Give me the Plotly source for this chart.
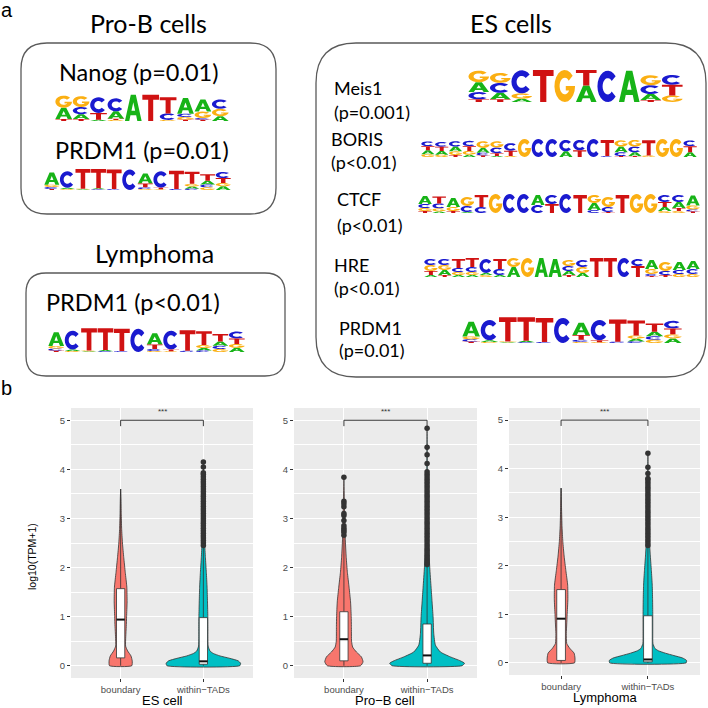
import math
import plotly.graph_objects as go

W = H = 708

# ======================= Part b data =======================
panel_names = ["ES cell", "Pro−B cell", "Lymphoma"]
group_names = ["boundary", "within−TADs"]

# violin outlines: y level and half width (category units)
es_bnd_y = [0, 0.1, 0.2, 0.3, 0.4, 0.6, 0.8, 1.0, 1.3, 1.6, 1.9, 2.2, 2.5, 2.8, 3.1, 3.4, 3.6]
es_bnd_w = [0.135, 0.14, 0.125, 0.085, 0.06, 0.062, 0.068, 0.072, 0.078, 0.075, 0.056, 0.038, 0.022, 0.012, 0.007, 0.004, 0.0]
es_win_y = [0, 0.05, 0.1, 0.15, 0.2, 0.25, 0.3, 0.4, 0.6, 0.8, 1.0, 1.3, 1.6, 1.9, 2.2, 2.5, 2.8, 3.2, 3.6, 4.15]
es_win_w = [0.44, 0.45, 0.42, 0.32, 0.2, 0.12, 0.08, 0.058, 0.055, 0.055, 0.054, 0.05, 0.045, 0.036, 0.025, 0.016, 0.01, 0.006, 0.004, 0.0]
pb_bnd_y = [0, 0.08, 0.18, 0.28, 0.38, 0.5, 0.8, 1.0, 1.3, 1.6, 1.9, 2.2, 2.6, 3.0, 3.4, 3.84]
pb_bnd_w = [0.2, 0.23, 0.21, 0.15, 0.105, 0.092, 0.09, 0.088, 0.08, 0.062, 0.042, 0.028, 0.016, 0.01, 0.005, 0.0]
pb_win_y = [0, 0.05, 0.1, 0.18, 0.28, 0.42, 0.66, 1.0, 1.3, 1.6, 2.0, 2.4, 2.8, 3.4, 4.0, 4.84]
pb_win_w = [0.42, 0.45, 0.4, 0.28, 0.16, 0.1, 0.08, 0.072, 0.06, 0.048, 0.032, 0.02, 0.013, 0.007, 0.003, 0.0]
ly_bnd_y = [0, 0.1, 0.2, 0.3, 0.4, 0.6, 0.8, 1.0, 1.3, 1.6, 1.9, 2.2, 2.5, 2.8, 3.2, 3.6]
ly_bnd_w = [0.155, 0.16, 0.15, 0.1, 0.065, 0.06, 0.065, 0.07, 0.078, 0.076, 0.055, 0.035, 0.02, 0.011, 0.005, 0.0]
ly_win_y = [0, 0.05, 0.1, 0.15, 0.2, 0.25, 0.3, 0.4, 0.6, 0.8, 1.0, 1.3, 1.6, 1.9, 2.2, 2.5, 2.8, 3.2, 3.7, 4.32]
ly_win_w = [0.44, 0.445, 0.4, 0.3, 0.2, 0.12, 0.08, 0.058, 0.056, 0.056, 0.056, 0.054, 0.05, 0.04, 0.028, 0.018, 0.011, 0.006, 0.003, 0.0]

# box statistics: q1, median, q3, lower whisker, upper whisker
es_bnd_box = [0.16, 0.94, 1.57, 0.0, 3.6]
es_win_box = [0.03, 0.09, 0.98, 0.0, 2.42]
pb_bnd_box = [0.1, 0.54, 1.1, 0.0, 2.6]
pb_win_box = [0.05, 0.21, 0.85, 0.0, 2.04]
ly_bnd_box = [0.05, 0.91, 1.51, 0.0, 3.6]
ly_win_box = [0.02, 0.07, 0.97, 0.0, 2.4]

# outliers
es_bnd_out = []
es_win_out = [2.45, 2.5, 2.55, 2.6, 2.65, 2.7, 2.75, 2.8, 2.85, 2.9, 2.95, 3.0, 3.05, 3.1, 3.15,
              3.2, 3.25, 3.3, 3.35, 3.4, 3.45, 3.5, 3.55, 3.6, 3.65, 3.7, 3.75, 3.8, 3.85, 3.9,
              3.93, 4.05, 4.15]
pb_bnd_out = [2.66, 2.72, 2.76, 2.8, 2.85, 2.96, 3.06, 3.1, 3.24, 3.3, 3.35, 3.84]
pb_win_out = [2.06, 2.1, 2.15, 2.2, 2.25, 2.3, 2.35, 2.4, 2.45, 2.5, 2.55, 2.6, 2.65, 2.7, 2.75,
              2.8, 2.85, 2.9, 2.95, 3.0, 3.05, 3.1, 3.15, 3.2, 3.25, 3.3, 3.35, 3.4, 3.45, 3.5,
              3.55, 3.6, 3.65, 3.7, 3.75, 3.8, 3.85, 3.9, 3.95, 4.12, 4.3, 4.45, 4.84]
ly_bnd_out = []
ly_win_out = [2.42, 2.47, 2.52, 2.57, 2.62, 2.67, 2.72, 2.77, 2.82, 2.87, 2.92, 2.97, 3.02, 3.07,
              3.12, 3.17, 3.22, 3.27, 3.32, 3.37, 3.42, 3.47, 3.52, 3.57, 3.62, 3.67, 3.72, 3.77,
              3.8, 3.9, 4.03, 4.32]

sig_label = "***"

# ======================= Part a data =======================
# sequence logo columns: (letter, height as fraction of logo height), bottom -> top
nanog = [
    [("T", .07), ("A", .42), ("G", .45)],
    [("T", .07), ("A", .18), ("C", .27), ("G", .40)],
    [("A", .05), ("T", .25), ("C", .58)],
    [("G", .04), ("T", .04), ("A", .28), ("C", .48)],
    [("A", .97)],
    [("T", .97)],
    [("G", .04), ("C", .24), ("T", .60)],
    [("T", .05), ("G", .10), ("C", .12), ("A", .58)],
    [("T", .05), ("C", .06), ("G", .24), ("A", .45)],
    [("A", .18), ("G", .27), ("C", .35)],
]
prdm1 = [
    [("T", .05), ("C", .09), ("G", .10), ("A", .55)],
    [("G", .04), ("A", .06), ("C", .75)],
    [("A", .03), ("G", .03), ("T", .89)],
    [("C", .03), ("A", .05), ("T", .87)],
    [("C", .04), ("T", .89)],
    [("C", .93)],
    [("G", .04), ("C", .08), ("T", .18), ("A", .45)],
    [("G", .03), ("T", .07), ("C", .75)],
    [("C", .05), ("T", .82)],
    [("C", .06), ("A", .10), ("G", .12), ("T", .55)],
    [("G", .12), ("C", .13), ("A", .17), ("T", .30)],
    [("A", .17), ("G", .15), ("T", .22), ("C", .28)],
]
meis1 = [
    [("T", .08), ("C", .22), ("A", .30), ("G", .35)],
    [("T", .08), ("A", .20), ("C", .30), ("G", .30)],
    [("A", .10), ("G", .16), ("C", .70)],
    [("T", .97)],
    [("G", .97)],
    [("A", .50), ("T", .47)],
    [("C", .95)],
    [("A", .95)],
    [("T", .06), ("A", .18), ("C", .27), ("G", .30)],
    [("G", .20), ("T", .32), ("C", .30)],
]
boris = [
    [("G", .15), ("A", .20), ("T", .22), ("C", .25)],
    [("G", .12), ("A", .20), ("T", .22), ("C", .25)],
    [("T", .10), ("G", .20), ("A", .25), ("C", .28)],
    [("A", .12), ("G", .20), ("T", .25), ("C", .28)],
    [("T", .08), ("C", .15), ("A", .25), ("G", .35)],
    [("A", .05), ("T", .15), ("C", .30), ("G", .33)],
    [("G", .05), ("T", .28), ("C", .40)],
    [("G", .95)],
    [("C", .95)],
    [("C", .95)],
    [("A", .30), ("C", .60)],
    [("T", .35), ("C", .55)],
    [("C", .95)],
    [("C", .05), ("T", .85)],
    [("T", .05), ("C", .20), ("A", .30), ("G", .33)],
    [("T", .05), ("A", .20), ("C", .30), ("G", .35)],
    [("G", .08), ("T", .80)],
    [("G", .95)],
    [("G", .95)],
    [("A", .25), ("T", .32), ("C", .30)],
]
ctcf = [
    [("T", .10), ("G", .15), ("C", .20), ("A", .40)],
    [("A", .08), ("G", .15), ("C", .25), ("T", .35)],
    [("T", .10), ("G", .20), ("A", .45)],
    [("A", .05), ("C", .30), ("G", .45)],
    [("C", .30), ("T", .60)],
    [("G", .95)],
    [("C", .95)],
    [("C", .95)],
    [("C", .40), ("A", .50)],
    [("T", .45), ("C", .45)],
    [("C", .95)],
    [("T", .90)],
    [("C", .15), ("A", .35), ("G", .40)],
    [("T", .05), ("C", .25), ("G", .50)],
    [("T", .90)],
    [("G", .95)],
    [("G", .95)],
    [("G", .10), ("A", .20), ("T", .25), ("C", .35)],
    [("G", .10), ("T", .15), ("A", .30), ("C", .35)],
    [("T", .08), ("C", .10), ("G", .20), ("A", .50)],
]
hre = [
    [("A", .10), ("T", .20), ("G", .30), ("C", .30)],
    [("T", .10), ("A", .25), ("G", .25), ("C", .30)],
    [("A", .10), ("G", .15), ("C", .20), ("T", .45)],
    [("A", .10), ("G", .15), ("C", .25), ("T", .45)],
    [("G", .10), ("A", .10), ("C", .70)],
    [("A", .10), ("C", .30), ("T", .50)],
    [("A", .50), ("G", .45)],
    [("G", .95)],
    [("A", .95)],
    [("A", .90)],
    [("T", .10), ("A", .20), ("C", .25), ("G", .30)],
    [("A", .20), ("G", .30), ("C", .35)],
    [("T", .95)],
    [("T", .95)],
    [("C", .95)],
    [("T", .55), ("C", .35)],
    [("T", .05), ("C", .10), ("G", .25), ("A", .45)],
    [("T", .10), ("C", .20), ("G", .45)],
    [("G", .15), ("C", .20), ("A", .40)],
    [("G", .15), ("C", .25), ("A", .40)],
]

letter_colors = {"A": "#17B317", "C": "#1A1ACF", "G": "#FBAF12", "T": "#D01212"}
fill_b = "#F8766D"
fill_w = "#00BFC4"

# ======================= helpers =======================
def px(x):
    return x / W

def py(y):
    return 1 - y / H


def arc(cx, cy, rx, ry, a0, a1, n=18):
    pts = []
    for i in range(n + 1):
        a = math.radians(a0 + (a1 - a0) * i / n)
        pts.append((cx + rx * math.cos(a), cy + ry * math.sin(a)))
    return pts


def glyph(letter):
    if letter == "T":
        return [[(0, 1), (1, 1), (1, 0.81), (0.65, 0.81), (0.65, 0), (0.35, 0), (0.35, 0.81), (0, 0.81)]]
    if letter == "A":
        return [[(0, 0), (0.35, 1), (0.65, 1), (1, 0), (0.74, 0), (0.67, 0.22), (0.33, 0.22), (0.26, 0)],
                [(0.39, 0.39), (0.61, 0.39), (0.5, 0.72)]]
    if letter == "C":
        return [arc(0.5, 0.5, 0.5, 0.5, 40, 320) + arc(0.5, 0.5, 0.25, 0.26, 320, 40)]
    if letter == "G":
        outer = arc(0.5, 0.5, 0.5, 0.5, 40, 360)
        inner = arc(0.5, 0.5, 0.25, 0.26, 328, 40)
        return [outer + [(0.55, 0.5), (0.55, 0.36)] + inner]
    return []


logo_paths = {k: [] for k in letter_colors}


def add_logo(cols, x0, x1, ytop, ybot):
    n = len(cols)
    sw = (x1 - x0) / n
    hh = ybot - ytop
    for i, col in enumerate(cols):
        lx0 = x0 + i * sw + sw * 0.02
        lw = sw * 0.96
        base = ybot
        for letter, h in col:
            lh = h * hh
            if lh >= 0.4:
                for poly in glyph(letter):
                    seg = []
                    for j, (u, v) in enumerate(poly):
                        X = px(lx0 + u * lw)
                        Y = py(base - v * lh)
                        seg.append(("M" if j == 0 else "L") + f"{X:.5f},{Y:.5f}")
                    logo_paths[letter].append(" ".join(seg) + " Z")
            base -= lh


def rrect(x0, y0, x1, y1, r):
    p = [("M", x0 + r, y0), ("L", x1 - r, y0), ("Q", x1, y0, x1, y0 + r), ("L", x1, y1 - r),
         ("Q", x1, y1, x1 - r, y1), ("L", x0 + r, y1), ("Q", x0, y1, x0, y1 - r), ("L", x0, y0 + r),
         ("Q", x0, y0, x0 + r, y0)]
    out = []
    for item in p:
        cmd = item[0]
        coords = item[1:]
        s = []
        for k in range(0, len(coords), 2):
            s.append(f"{px(coords[k]):.5f},{py(coords[k + 1]):.5f}")
        out.append(cmd + " ".join(s))
    return " ".join(out) + " Z"


# ======================= figure =======================
fig = go.Figure()

panels = [
    dict(name=panel_names[0], xd=(71, 253), yd=(408, 678),
         v=[(es_bnd_y, es_bnd_w, es_bnd_box, es_bnd_out), (es_win_y, es_win_w, es_win_box, es_win_out)]),
    dict(name=panel_names[1], xd=(294, 477), yd=(408, 678),
         v=[(pb_bnd_y, pb_bnd_w, pb_bnd_box, pb_bnd_out), (pb_win_y, pb_win_w, pb_win_box, pb_win_out)]),
    dict(name=panel_names[2], xd=(509, 700), yd=(408, 675),
         v=[(ly_bnd_y, ly_bnd_w, ly_bnd_box, ly_bnd_out), (ly_win_y, ly_win_w, ly_win_box, ly_win_out)]),
]

annotations = []
layout_axes = {}
line_col = "#333333"
for pi, p in enumerate(panels):
    sfx = "" if pi == 0 else str(pi + 1)
    xa, ya = "x" + sfx, "y" + sfx
    for gi, (vy, vw, bx, outl) in enumerate(p["v"]):
        c = gi + 1
        col = fill_b if gi == 0 else fill_w
        xs = [c - w for w in vw] + [c + w for w in reversed(vw)] + [c - vw[0]]
        ys = list(vy) + list(reversed(vy)) + [vy[0]]
        fig.add_trace(go.Scatter(x=xs, y=ys, mode="lines", fill="toself", fillcolor=col,
                                 line=dict(color=line_col, width=0.8, shape="spline", smoothing=0.5),
                                 xaxis=xa, yaxis=ya, hoverinfo="skip", showlegend=False))
        q1, med, q3, lo, hi = bx
        # whiskers
        fig.add_trace(go.Scatter(x=[c, c, None, c, c], y=[q3, hi, None, lo, q1], mode="lines",
                                 line=dict(color=line_col, width=0.8), xaxis=xa, yaxis=ya,
                                 hoverinfo="skip", showlegend=False))
        bw = 0.05
        fig.add_trace(go.Scatter(x=[c - bw, c + bw, c + bw, c - bw, c - bw], y=[q1, q1, q3, q3, q1],
                                 mode="lines", fill="toself", fillcolor="white",
                                 line=dict(color=line_col, width=0.8), xaxis=xa, yaxis=ya,
                                 hoverinfo="skip", showlegend=False))
        fig.add_trace(go.Scatter(x=[c - bw, c + bw], y=[med, med], mode="lines",
                                 line=dict(color="#111111", width=2), xaxis=xa, yaxis=ya,
                                 hoverinfo="skip", showlegend=False))
        if outl:
            fig.add_trace(go.Scatter(x=[c] * len(outl), y=outl, mode="markers",
                                     marker=dict(color=line_col, size=5.5), xaxis=xa, yaxis=ya,
                                     hoverinfo="skip", showlegend=False))
    # significance bracket
    fig.add_trace(go.Scatter(x=[1, 1, 2, 2], y=[4.88, 5, 5, 4.88], mode="lines",
                             line=dict(color="#222222", width=0.9), xaxis=xa, yaxis=ya,
                             hoverinfo="skip", showlegend=False))
    annotations.append(dict(x=1.5, y=5.17, xref=xa, yref=ya, text=sig_label, showarrow=False,
                            font=dict(size=8, color="#333333", family="Liberation Sans")))
    layout_axes["xaxis" + sfx] = dict(
        domain=[p["xd"][0] / W, p["xd"][1] / W], anchor=ya, range=[0.4, 2.6],
        tickvals=[1, 2], ticktext=group_names, showgrid=True, gridcolor="white", gridwidth=1.1,
        zeroline=False, ticks="outside", ticklen=3, tickcolor="#333333", tickwidth=0.9,
        tickfont=dict(size=9.5, color="#4D4D4D", family="Liberation Sans"), fixedrange=True)
    layout_axes["yaxis" + sfx] = dict(
        domain=[1 - p["yd"][1] / H, 1 - p["yd"][0] / H], anchor=xa, range=[-0.25, 5.25],
        tickvals=[0, 1, 2, 3, 4, 5], showgrid=True, gridcolor="white", gridwidth=1.1,
        minor=dict(tickvals=[0.5, 1.5, 2.5, 3.5, 4.5], showgrid=True, gridcolor="white", gridwidth=0.5),
        zeroline=False, ticks="outside", ticklen=3, tickcolor="#333333", tickwidth=0.9,
        tickfont=dict(size=9.5, color="#4D4D4D", family="Liberation Sans"), fixedrange=True)

# panel x titles
for (name, cx, cy) in [(panel_names[0], 162, 700), (panel_names[1], 385, 700), (panel_names[2], 605, 697)]:
    annotations.append(dict(x=px(cx), y=py(cy), xref="paper", yref="paper", text=name, showarrow=False,
                            font=dict(size=13, color="black", family="Liberation Sans"),
                            xanchor="center", yanchor="middle"))
annotations.append(dict(x=px(32), y=py(557), xref="paper", yref="paper", text="log10(TPM+1)",
                        showarrow=False, textangle=-90, xanchor="center", yanchor="middle",
                        font=dict(size=10.5, color="black", family="Liberation Sans")))

# ---------------- part a ----------------
add_logo(nanog, 55, 229, 94, 121)
add_logo(prdm1, 44, 231, 168, 190)
add_logo(prdm1, 48, 245, 327, 352)
add_logo(meis1, 468, 683, 69, 102)
add_logo(boris, 421, 697, 138, 157)
add_logo(ctcf, 418, 700, 193, 213)
add_logo(hre, 424, 700, 257, 277)
add_logo(prdm1, 462, 682, 316, 343)

shapes = []
for (x0, y0, x1, y1, r) in [(21, 43, 276, 214, 26), (26, 273, 285, 376, 20), (316, 43, 706, 377, 40)]:
    shapes.append(dict(type="path", path=rrect(x0, y0, x1, y1, r), xref="paper", yref="paper",
                       line=dict(color="#5A5A5A", width=1.3), fillcolor="rgba(0,0,0,0)"))
for letter, segs in logo_paths.items():
    if segs:
        shapes.append(dict(type="path", path=" ".join(segs), xref="paper", yref="paper",
                           line=dict(width=0), fillcolor=letter_colors[letter], fillrule="evenodd"))

fa = "Lato"
texts = [
    ("a", 7, 10, 20, "center", "Liberation Sans"),
    ("b", 6, 388, 20, "center", "Liberation Sans"),
    ("Pro-B cells", 148.5, 23, 25, "center", fa),
    ("ES cells", 511, 23, 25, "center", fa),
    ("Lymphoma", 154, 253, 25, "center", fa),
    ("Nanog (p=0.01)", 138, 72, 23.5, "center", fa),
    ("PRDM1 (p=0.01)", 142, 150, 23.5, "center", fa),
    ("PRDM1 (p<0.01)", 133, 302, 23.5, "center", fa),
    ("Meis1", 332, 88, 18, "left", fa),
    ("(p=0.001)", 332, 112, 18, "left", fa),
    ("BORIS", 329, 139, 18, "left", fa),
    ("(p<0.01)", 329, 162, 18, "left", fa),
    ("CTCF", 335, 199, 18, "left", fa),
    ("(p<0.01)", 335, 225, 18, "left", fa),
    ("HRE", 332, 265, 18, "left", fa),
    ("(p<0.01)", 332, 288, 18, "left", fa),
    ("PRDM1", 337, 328, 18, "left", fa),
    ("(p=0.01)", 337, 350, 18, "left", fa),
]
for t, x, y, s, anc, fam in texts:
    annotations.append(dict(x=px(x), y=py(y), xref="paper", yref="paper", text=t, showarrow=False,
                            xanchor=anc, yanchor="middle", font=dict(size=s, color="black", family=fam)))

fig.update_layout(width=W, height=H, margin=dict(l=0, r=0, t=0, b=0), paper_bgcolor="white",
                  plot_bgcolor="#EBEBEB", showlegend=False, annotations=annotations, shapes=shapes,
                  **layout_axes)

fig.write_html("out.html", config={"displayModeBar": False},
               post_script="document.body.style.margin='0px';document.body.style.overflow='hidden';")
